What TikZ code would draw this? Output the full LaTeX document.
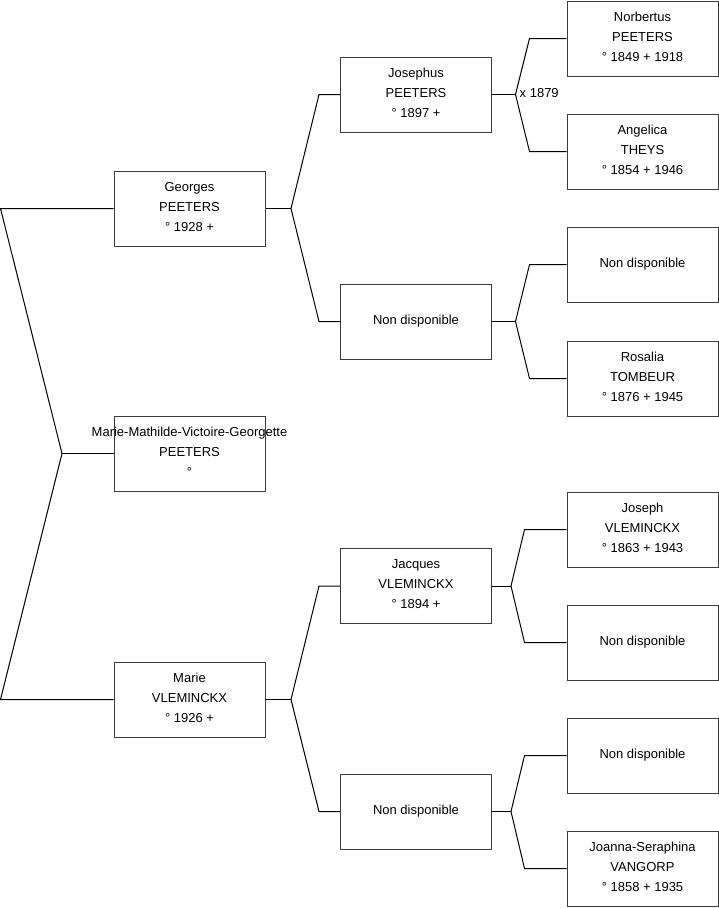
\documentclass[tikz,border=0pt]{standalone}
\usepackage{fontspec}
\setmainfont{Liberation Sans}
\begin{document}
\begin{tikzpicture}[x=1pt,y=-1pt,
  person/.style={draw={rgb,255:red,60;green,60;blue,60}, line width=1pt, minimum width=151pt, minimum height=75pt,
    inner sep=0pt, align=center, font=\fontsize{13}{20}\selectfont, text=black, text depth=4pt},
  link/.style={draw=black, line width=1pt, line join=miter}]
\useasboundingbox (0,0) rectangle (719,908);
% generation 1
\node[person] (G)  at (189.5,208.5) {Georges\\PEETERS\\° 1928 +};
\node[person] (MM) at (189.5,453.5) {\makebox[0pt]{Marie-Mathilde-Victoire-Georgette}\\PEETERS\\°};
\node[person] (M)  at (189.5,699.5) {Marie\\VLEMINCKX\\° 1926 +};
% generation 2
\node[person] (J)  at (416,94.5)  {Josephus\\PEETERS\\° 1897 +};
\node[person] (N1) at (416,321.5) {Non disponible};
\node[person] (JV) at (416,586)   {Jacques\\VLEMINCKX\\° 1894 +};
\node[person] (N2) at (416,811.5) {Non disponible};
% generation 3
\node[person] (NP) at (642.5,38.5)  {Norbertus\\PEETERS\\° 1849 + 1918};
\node[person] (AT) at (642.5,151.5) {Angelica\\THEYS\\° 1854 + 1946};
\node[person] (N3) at (642.5,264.5) {Non disponible};
\node[person] (RT) at (642.5,378.5) {Rosalia\\TOMBEUR\\° 1876 + 1945};
\node[person] (JX) at (642.5,529.5) {Joseph\\VLEMINCKX\\° 1863 + 1943};
\node[person] (N4) at (642.5,642.5) {Non disponible};
\node[person] (N5) at (642.5,755.5) {Non disponible};
\node[person] (JS) at (642.5,868.5) {Joanna-Seraphina\\VANGORP\\° 1858 + 1935};
% leftmost fork
\coordinate (a0) at (0.5,208.5);
\coordinate (a1) at (62,453.5);
\coordinate (a2) at (0.5,699.5);
\draw[link] (G.west) -- (a0) -- (a1) -- (a2) -- (M.west);
\draw[link] (a1) -- (MM.west);
% generation 1 -> 2 forks
\draw[link] (G.east) -- ++(25.5,0) coordinate (Gf);
\draw[link] (J.west) -- ++(-21,0) -- (Gf) -- ([xshift=-21pt]N1.west) -- (N1.west);
\draw[link] (M.east) -- ++(25.5,0) coordinate (Mf);
\draw[link] (JV.west) -- ++(-21,0) -- (Mf) -- ([xshift=-21pt]N2.west) -- (N2.west);
% generation 2 -> 3 forks
\draw[link] (J.east) -- ++(23.5,0) coordinate (Jf);
\draw[link] (NP.west) -- ++(-37,0) -- (Jf) -- ([xshift=-37pt]AT.west) -- (AT.west);
\node[anchor=west, inner sep=0pt, font=\fontsize{13}{20}\selectfont] (mar) at ([xshift=4pt,yshift=1.5pt]Jf) {x 1879};
\draw[link] (N1.east) -- ++(23.5,0) coordinate (N1f);
\draw[link] (N3.west) -- ++(-37,0) -- (N1f) -- ([xshift=-37pt]RT.west) -- (RT.west);
\draw[link] (JV.east) -- ++(19,0) coordinate (JVf);
\draw[link] (JX.west) -- ++(-42,0) -- (JVf) -- ([xshift=-42pt]N4.west) -- (N4.west);
\draw[link] (N2.east) -- ++(19,0) coordinate (N2f);
\draw[link] (N5.west) -- ++(-42,0) -- (N2f) -- ([xshift=-42pt]JS.west) -- (JS.west);
\end{tikzpicture}
\end{document}
